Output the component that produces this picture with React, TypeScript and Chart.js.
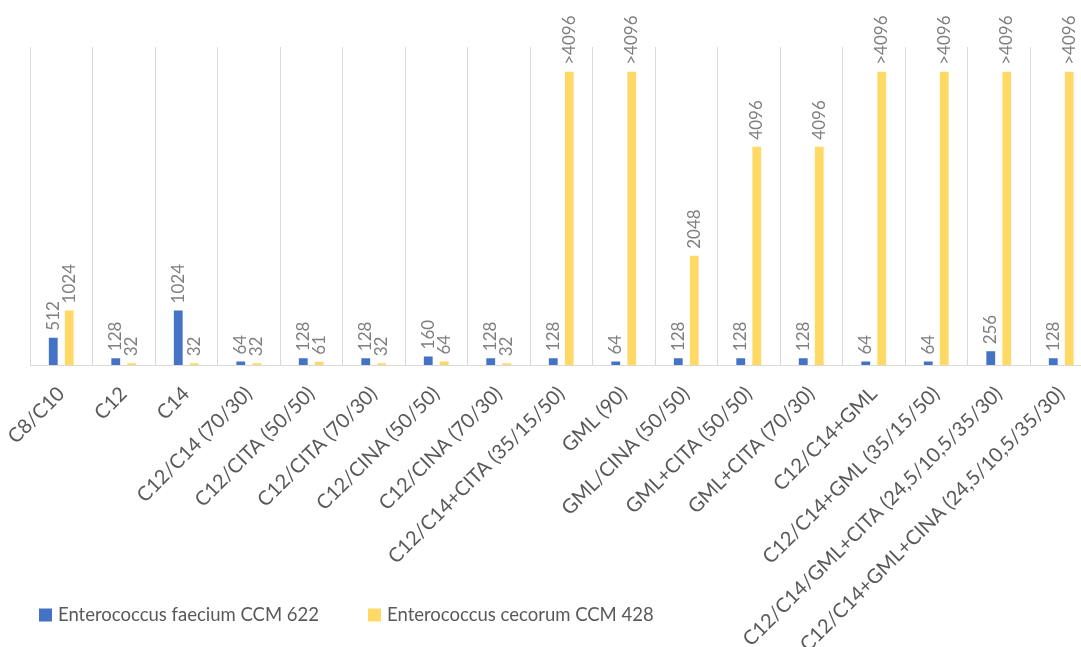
import React, { useEffect, useRef } from "react";
import { Chart, registerables } from "chart.js";

Chart.register(...registerables);

// Tested formulations (x axis)
const categories = [
  "C8/C10",
  "C12",
  "C14",
  "C12/C14 (70/30)",
  "C12/CITA (50/50)",
  "C12/CITA (70/30)",
  "C12/CINA (50/50)",
  "C12/CINA (70/30)",
  "C12/C14+CITA (35/15/50)",
  "GML (90)",
  "GML/CINA (50/50)",
  "GML+CITA (50/50)",
  "GML+CITA (70/30)",
  "C12/C14+GML",
  "C12/C14+GML (35/15/50)",
  "C12/C14/GML+CITA (24,5/10,5/35/30)",
  "C12/C14+GML+CINA (24,5/10,5/35/30)",
];

// Highest concentration tested; results above it are shown as ">4096"
const TESTED_MAX = 4096;
// Bar height used for results above the tested range
const ABOVE_RANGE = 5500;

const seriesNames = ["Enterococcus faecium CCM 622", "Enterococcus cecorum CCM 428"];

const faeciumMic = [512, 128, 1024, 64, 128, 128, 160, 128, 128, 64, 128, 128, 128, 64, 64, 256, 128];

const cecorumMic = [
  1024, 32, 32, 32, 61, 32, 64, 32,
  ABOVE_RANGE, ABOVE_RANGE, 2048, 4096, 4096,
  ABOVE_RANGE, ABOVE_RANGE, ABOVE_RANGE, ABOVE_RANGE,
];

const seriesColors = ["#4472C4", "#FFD966"];

const formatMic = (v: number) => (v > TESTED_MAX ? `>${TESTED_MAX}` : String(v));

// Vertical value labels above each bar
const valueLabels = {
  id: "valueLabels",
  afterDatasetsDraw(chart: any) {
    const { ctx } = chart;
    ctx.save();
    ctx.font = "17px Lato";
    ctx.fillStyle = "#7F7F7F";
    ctx.textAlign = "left";
    ctx.textBaseline = "middle";
    chart.data.datasets.forEach((ds: any, di: number) => {
      const meta = chart.getDatasetMeta(di);
      meta.data.forEach((bar: any, i: number) => {
        const text = formatMic(ds.data[i]);
        ctx.save();
        ctx.translate(bar.x, bar.y - 7);
        ctx.rotate(-Math.PI / 2);
        ctx.fillText(text, 0, 0);
        ctx.restore();
      });
    });
    ctx.restore();
  },
};

// Series key drawn along the bottom-left edge
const bottomLegend = {
  id: "bottomLegend",
  afterDraw(chart: any) {
    const { ctx } = chart;
    ctx.save();
    ctx.font = "18.5px Lato";
    ctx.textAlign = "left";
    ctx.textBaseline = "middle";
    const cy = 615;
    const box = 13;
    let x = 39;
    chart.data.datasets.forEach((ds: any) => {
      ctx.fillStyle = ds.backgroundColor;
      ctx.fillRect(x, cy - box / 2, box, box);
      ctx.fillStyle = "#595959";
      ctx.fillText(ds.label, x + 19, cy);
      x += 19 + ctx.measureText(ds.label).width + 49;
    });
    ctx.restore();
  },
};

export default function App() {
  const ref = useRef<HTMLCanvasElement>(null);

  useEffect(() => {
    if (!ref.current) return;
    const chart = new Chart(ref.current, {
      type: "bar",
      data: {
        labels: categories,
        datasets: [
          {
            label: seriesNames[0],
            data: faeciumMic,
            backgroundColor: seriesColors[0],
            categoryPercentage: 0.512,
            barPercentage: 0.55,
          },
          {
            label: seriesNames[1],
            data: cecorumMic,
            backgroundColor: seriesColors[1],
            categoryPercentage: 0.512,
            barPercentage: 0.55,
          },
        ],
      },
      options: {
        animation: false,
        responsive: true,
        maintainAspectRatio: false,
        layout: { padding: { left: 30, right: 7.5, top: 47, bottom: 0 } },
        plugins: {
          legend: { display: false },
          tooltip: { enabled: false },
        },
        scales: {
          x: {
            grid: { offset: true, color: "#D9D9D9", drawTicks: false, lineWidth: 1 },
            border: { color: "#D9D9D9" },
            ticks: {
              autoSkip: false,
              minRotation: 45,
              maxRotation: 45,
              color: "#595959",
              font: { family: "Lato", size: 20 },
              padding: 17,
            },
            afterFit: (s: any) => {
              // labels may overhang the outer margins; keep the plot width fixed
              s.height = 282;
              s.paddingLeft = 0;
              s.paddingRight = 0;
            },
          },
          y: {
            display: false,
            min: 0,
            max: 5965,
          },
        },
      },
      plugins: [valueLabels, bottomLegend],
    });
    return () => chart.destroy();
  }, []);

  return (
    <div
      style={{
        position: "fixed",
        left: 0,
        top: 0,
        width: 1081,
        height: 647,
        overflow: "hidden",
        background: "#ffffff",
      }}
    >
      <div style={{ position: "relative", width: 1100, height: 647 }}>
        <canvas ref={ref} />
      </div>
    </div>
  );
}
